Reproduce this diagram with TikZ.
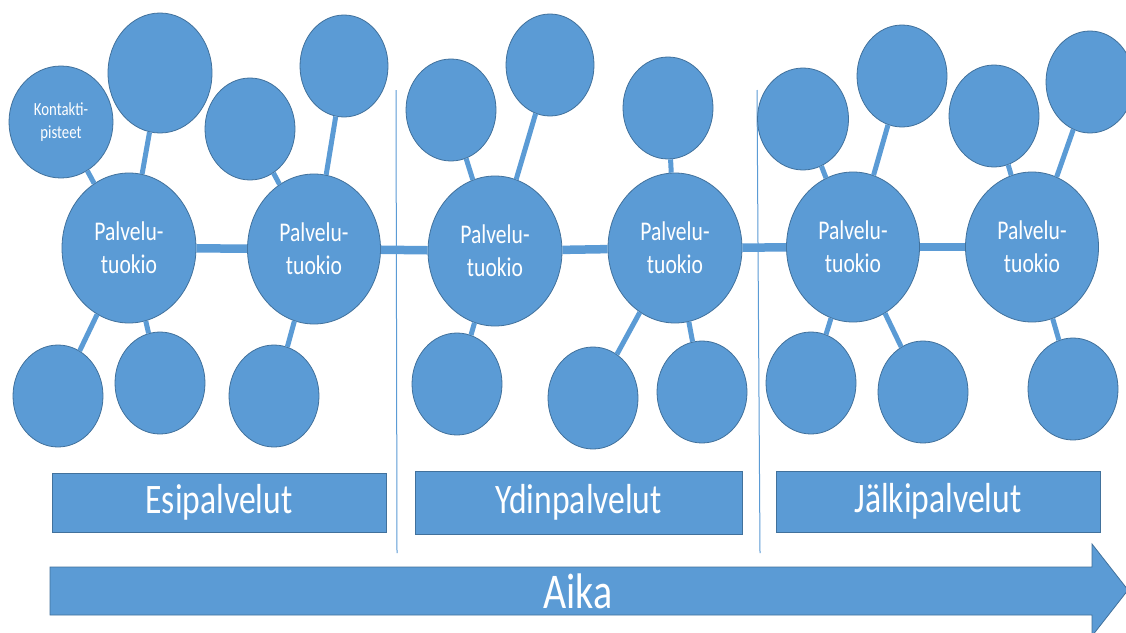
\documentclass[tikz,border=0pt]{standalone}
\usepackage{fontspec}
\setmainfont{Carlito}[FakeStretch=0.8]
\usetikzlibrary{shapes.geometric}
\definecolor{nodeblue}{HTML}{5B9BD5}
\definecolor{edgeblue}{HTML}{41719C}
\tikzset{
  circ/.style={ellipse, fill=nodeblue, draw=edgeblue, line width=0.8pt, inner sep=0pt, text=white, align=center},
  small/.style={circ, minimum width=90pt, minimum height=102pt},
  hub/.style={circ, minimum width=133pt, minimum height=150pt, font=\fontsize{27}{33}\selectfont},
  spoke/.style={nodeblue, line width=5pt},
  chain/.style={nodeblue, line width=8.5pt},
  phase/.style={rectangle, fill=nodeblue, draw=edgeblue, line width=0.8pt, text=white, font=\fontsize{42}{46}\selectfont},
  divider/.style={nodeblue, line width=1pt}
}
\begin{document}
\begin{tikzpicture}[x=1pt, y=-1pt]
\useasboundingbox (0,0) rectangle (1126,632);
\fill[white] (0,0) rectangle (1126,632);
\clip (0,0) rectangle (1126,632);

% dividers
\draw[divider] (396,90) -- (397,553);
\draw[divider] (757,90) -- (760,553);

% section 1
\node[circ, minimum width=104pt, minimum height=112pt, font=\fontsize{18.5}{23}\selectfont] (k1) at (61,122) {Kontakti-\\pisteet};
\node[circ, minimum width=104pt, minimum height=120pt] (t1) at (160,73) {};
\node[small] (t2) at (250,129) {};
\node[small, minimum width=88pt] (t3) at (344,66) {};
\node[hub, minimum width=134pt] (h1) at (129,248) {Palvelu-\\tuokio};
\node[hub] (h2) at (314,249) {Palvelu-\\tuokio};
\node[small] (b1) at (58,396) {};
\node[small] (b2) at (160,383) {};
\node[small] (b3) at (274,396) {};

% section 2
\node[small] (t4) at (451,110) {};
\node[small, minimum width=88pt] (t5) at (550,65) {};
\node[hub, minimum width=134pt] (h3) at (495,251) {Palvelu-\\tuokio};
\node[hub, minimum width=134pt] (h4) at (675,248) {Palvelu-\\tuokio};
\node[small] (t6) at (668,108) {};
\node[small] (b4) at (457,384) {};
\node[small] (b5) at (593,398) {};
\node[small] (b6) at (702,392) {};

% section 3
\node[small, minimum width=91pt] (t7) at (803,119) {};
\node[small] (t8) at (902,76) {};
\node[hub] (h5) at (853,247) {Palvelu-\\tuokio};
\node[small] (t9) at (994,116) {};
\node[small, minimum width=88pt] (t10) at (1090,82) {};
\node[hub] (h6) at (1032,247) {Palvelu-\\tuokio};
\node[small] (b7) at (811,383) {};
\node[small] (b8) at (923,392) {};
\node[small] (b9) at (1073,389) {};

% chain
\draw[chain] (h1) -- (h2);
\draw[chain] (h2) -- (h3);
\draw[chain] (h3) -- (h4);
\draw[chain] (h4) -- (h5);
\draw[chain] (h5) -- (h6);

% spokes
\draw[spoke] (k1) -- (h1);
\draw[spoke] (t1) -- (h1);
\draw[spoke] (h1) -- (b1);
\draw[spoke] (h1) -- (b2);
\draw[spoke] (t2) -- (h2);
\draw[spoke] (t3) -- (h2);
\draw[spoke] (h2) -- (b3);
\draw[spoke] (t4) -- (h3);
\draw[spoke] (t5) -- (h3);
\draw[spoke] (h3) -- (b4);
\draw[spoke] (t6) -- (h4);
\draw[spoke] (h4) -- (b5);
\draw[spoke] (h4) -- (b6);
\draw[spoke] (t7) -- (h5);
\draw[spoke] (t8) -- (h5);
\draw[spoke] (h5) -- (b7);
\draw[spoke] (h5) -- (b8);
\draw[spoke] (t9) -- (h6);
\draw[spoke] (t10) -- (h6);
\draw[spoke] (h6) -- (b9);

% phase boxes
\node[phase, minimum width=334pt, minimum height=59pt] (p1) at (219,502.5) {Esipalvelut};
\node[phase, minimum width=327pt, minimum height=63pt] (p2) at (578.5,502.5) {Ydinpalvelut};
\node[phase, minimum width=324pt, minimum height=61pt] (p3) at (938,501.5) {Jälkipalvelut};

% time arrow
\fill[nodeblue, draw=edgeblue, line width=0.8pt] (50,567) -- (1092,567) -- (1092,544) -- (1128,590) -- (1092,636) -- (1092,615) -- (50,615) -- cycle;
\node[text=white, font=\fontsize{50}{54}\selectfont] (aika) at (578,591) {Aika};
\end{tikzpicture}
\end{document}
